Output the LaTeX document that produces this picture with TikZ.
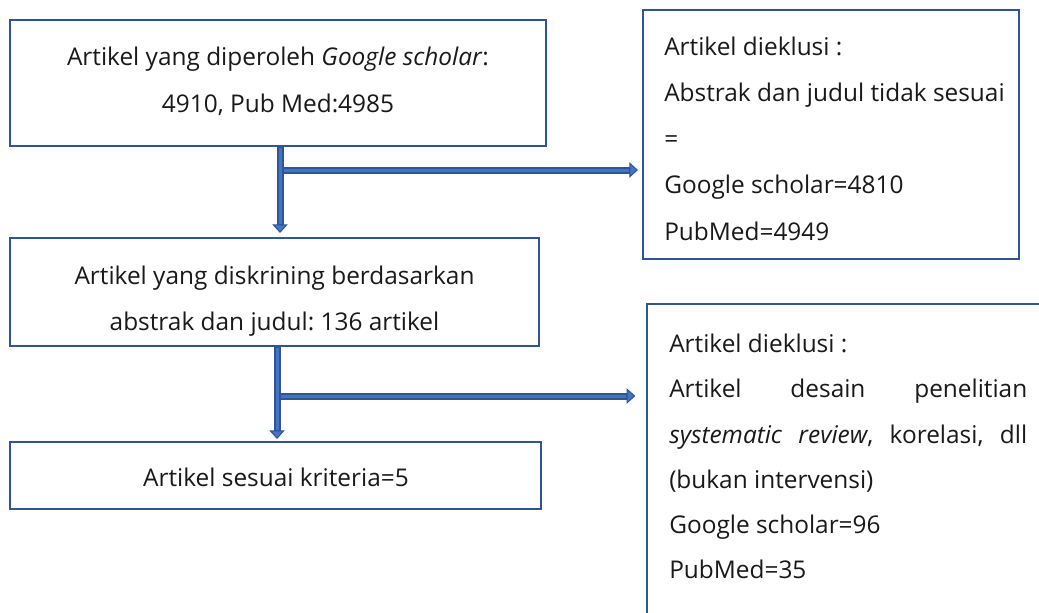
\documentclass[tikz,border=0pt]{standalone}
\usepackage{fontspec}
\setmainfont{Open Sans}
\usetikzlibrary{arrows.meta,fit}
\definecolor{bord}{RGB}{47,85,151}
\definecolor{arrinc}{RGB}{68,114,196}
\definecolor{txt}{RGB}{25,25,25}
\frenchspacing
\begin{document}
\begin{tikzpicture}[x=0.75pt,y=-0.75pt,
  box/.style={draw=bord, line width=1.5pt, inner sep=0pt},
  lbl/.style={inner sep=0pt, text=txt, font=\fontsize{18.3}{21}\selectfont\frenchspacing},
  arrout/.style={line width=5.25pt, draw=bord, -{Triangle[length=6.5pt,width=11.5pt,line width=0.75pt,fill=arrinc]}},
  arrinn/.style={line width=2.25pt, draw=arrinc}]
\useasboundingbox (0,0) rectangle (1039,612);
\clip (0,0) rectangle (1039,612);
% boxes
\node[box, fit={(10,20)(546,146)}] (b1) {};
\node[box, fit={(643,10)(1019,259)}] (b2) {};
\node[box, fit={(10,238)(539,346)}] (b3) {};
\node[box, fit={(10,442)(541,509)}] (b4) {};
\node[box, fit={(647,304)(1070,650)}] (b5) {};
% box 1 text
\node[lbl, anchor=base] (t1a) at (278,65) {Artikel yang diperoleh \textit{Google scholar}:};
\node[lbl, anchor=base] (t1b) at (278,112) {4910, Pub Med:4985};
% box 2 text
\node[lbl, anchor=base west] (t2a) at (664,55) {Artikel dieklusi :};
\node[lbl, anchor=base west] (t2b) at (664,101) {Abstrak dan judul tidak sesuai};
\node[lbl, anchor=base west] (t2c) at (664,147) {=};
\node[lbl, anchor=base west] (t2d) at (664,193) {Google scholar=4810};
\node[lbl, anchor=base west] (t2e) at (664,240) {PubMed=4949};
% box 3 text
\node[lbl, anchor=base] (t3a) at (274.5,284) {Artikel yang diskrining berdasarkan};
\node[lbl, anchor=base] (t3b) at (274.5,330) {abstrak dan judul: 136 artikel};
% box 4 text
\node[lbl, anchor=base] (t4a) at (276,486) {Artikel sesuai kriteria=5};
% box 5 text
\node[lbl, anchor=base west] (t5a) at (669,352) {Artikel dieklusi :};
\node[lbl, anchor=base west] (t5b) at (669,397) {\makebox[268.5pt][s]{Artikel desain penelitian}};
\node[lbl, anchor=base west] (t5c) at (669,443) {\makebox[268.5pt][s]{\textit{systematic review}, korelasi, dll}};
\node[lbl, anchor=base west] (t5d) at (669,488) {(bukan intervensi)};
\node[lbl, anchor=base west] (t5e) at (669,533) {Google scholar=96};
\node[lbl, anchor=base west] (t5f) at (669,578) {PubMed=35};
% junctions
\coordinate (j1) at (280,170);
\coordinate (j2) at (277,396);
% horizontal arrows
\draw[arrout, shorten >=3pt] ([xshift=2.5pt]j1) -- (j1 -| b2.west);
\draw[arrinn, shorten >=10pt] ([xshift=3pt]j1) -- (j1 -| b2.west);
\draw[arrout, shorten >=8pt] ([xshift=2.5pt]j2) -- (j2 -| b5.west);
\draw[arrinn, shorten >=15pt] ([xshift=3pt]j2) -- (j2 -| b5.west);
% vertical arrows
\draw[arrout, shorten >=3pt] (b1.south -| j1) -- (b3.north -| j1);
\draw[arrinn, shorten >=10pt, shorten <=0.6pt] (b1.south -| j1) -- (b3.north -| j1);
\draw[arrout, shorten >=1.5pt] (b3.south -| j2) -- (b4.north -| j2);
\draw[arrinn, shorten >=8.5pt, shorten <=0.6pt] (b3.south -| j2) -- (b4.north -| j2);
\end{tikzpicture}
\end{document}
